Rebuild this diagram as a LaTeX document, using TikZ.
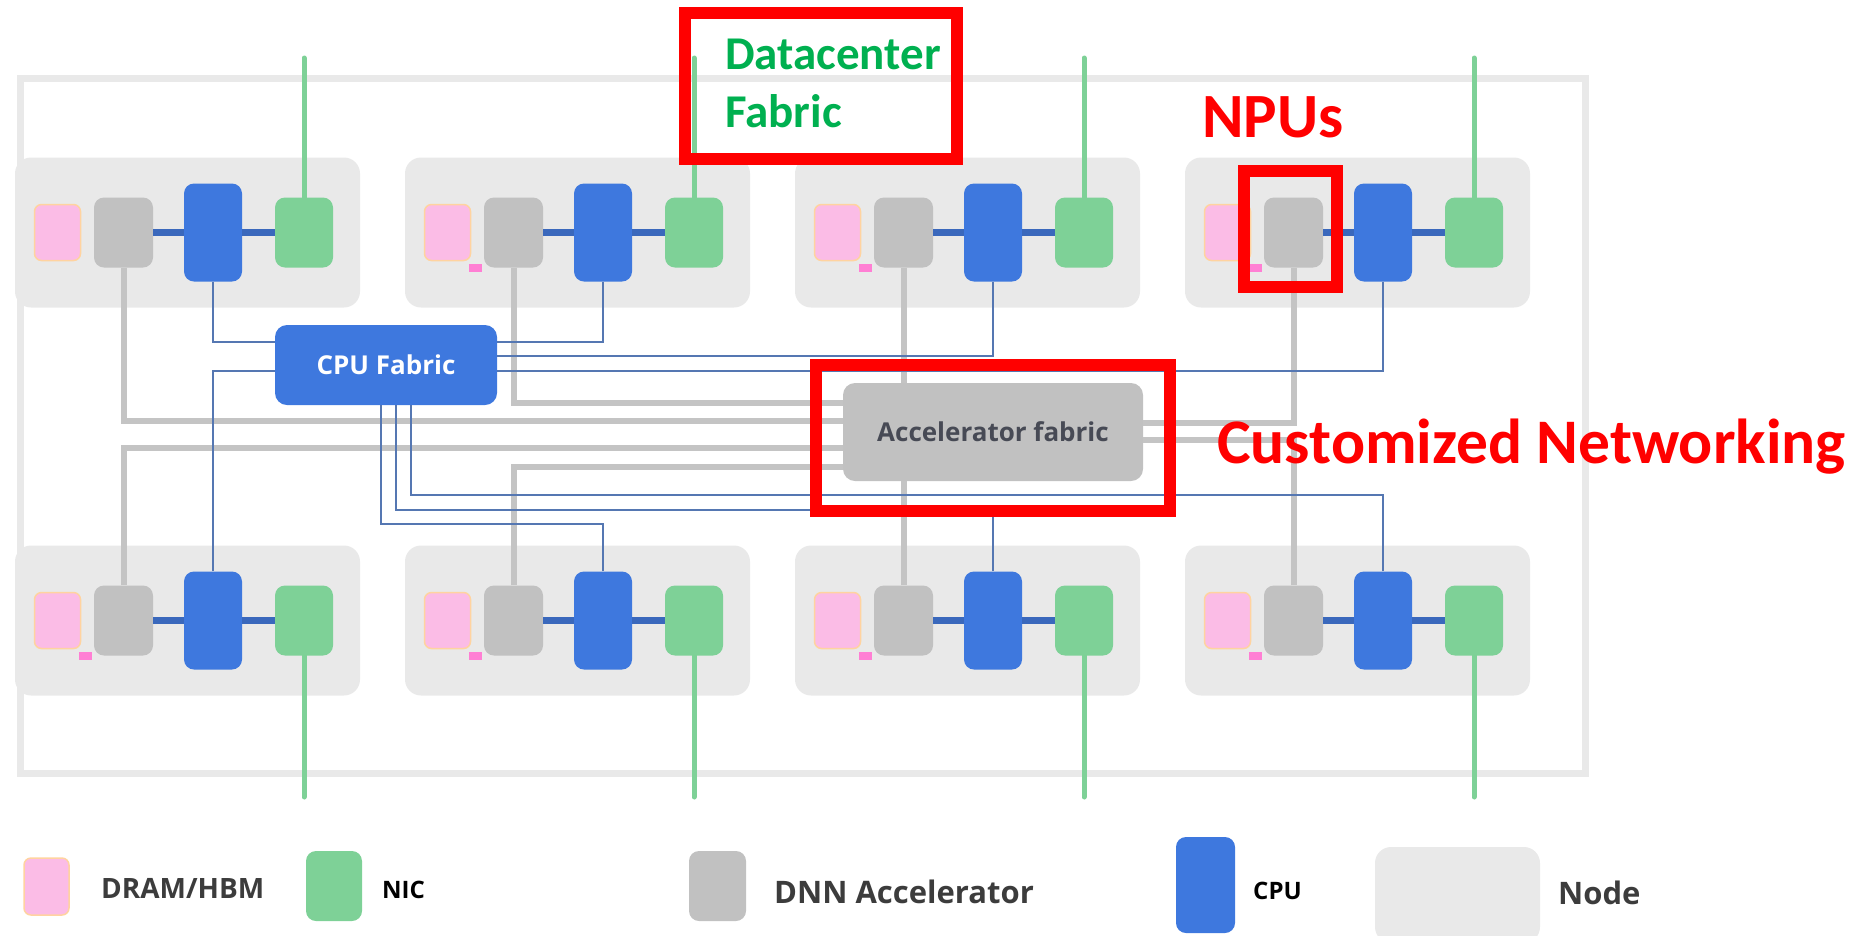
\documentclass[tikz,border=0pt]{standalone}
\usepackage{fontspec}
\setmainfont{Open Sans}
\newfontfamily\notefont{Carlito}

\definecolor{nodegray}{HTML}{E9E9E9}
\definecolor{dramfill}{HTML}{FBBCE6}
\definecolor{dramline}{HTML}{FFD3A0}
\definecolor{accgray}{HTML}{C1C1C1}
\definecolor{cpublue}{HTML}{3E78DE}
\definecolor{busblue}{HTML}{3A68BC}
\definecolor{nicgreen}{HTML}{7ED197}
\definecolor{linkblue}{HTML}{5577B2}
\definecolor{linkgray}{HTML}{C4C4C4}
\definecolor{framegray}{HTML}{E9E9E9}
\definecolor{tagpink}{HTML}{FF7FD4}
\definecolor{dcgreen}{HTML}{00B050}
\definecolor{labelgray}{HTML}{474A55}
\definecolor{legendgray}{HTML}{3C3C3C}

\tikzstyle{box}=[inner sep=0pt, rounded corners=10pt]
\tikzstyle{nodebox}=[box, fill=nodegray, minimum width=345pt, minimum height=150pt, rounded corners=16pt]
\tikzstyle{dram}=[box, fill=dramfill, draw=dramline, line width=1.5pt, minimum width=46pt, minimum height=56pt, rounded corners=7pt]
\tikzstyle{npu}=[box, fill=accgray, minimum width=59pt, minimum height=70pt]
\tikzstyle{cpu}=[box, fill=cpublue, minimum width=58pt, minimum height=98pt]
\tikzstyle{nic}=[box, fill=nicgreen, minimum width=58pt, minimum height=70pt]
\tikzstyle{tag}=[inner sep=0pt, fill=tagpink, minimum width=13pt, minimum height=8pt]
\tikzstyle{fabric}=[box, rounded corners=12pt, font=\bfseries\fontsize{26}{26}\selectfont]
\tikzstyle{bus}=[draw=busblue, line width=7pt]
\tikzstyle{cpulink}=[draw=linkblue, line width=2pt]
\tikzstyle{acclink}=[draw=linkgray, line width=6pt]
\tikzstyle{uplink}=[draw=nicgreen, line width=5pt, line cap=round]
\tikzstyle{redbox}=[draw=red, line width=12pt, inner sep=0pt]
\tikzstyle{note}=[inner sep=0pt, anchor=base west]
\tikzstyle{legtext}=[inner sep=0pt, anchor=base west, text=legendgray, font=\bfseries\fontsize{30}{30}\selectfont]
\tikzstyle{legsmall}=[inner sep=0pt, anchor=base west, font=\bfseries\fontsize{24}{24}\selectfont]

\begin{document}
\begin{tikzpicture}[x=1pt, y=-1pt]
  \useasboundingbox (0,0) rectangle (1862,935);
  \draw[framegray, line width=7pt] (20,78) rectangle (1585,773);
  \coordinate (top) at (0,58);
  \coordinate (bot) at (0,797);

  \node[nodebox] (n1) at (187.5,232.5) {};
  \node[cpu, right of=n1, node distance=25.5pt] (c1) {};
  \node[npu, left of=c1, node distance=89.5pt] (a1) {};
  \node[dram, left of=a1, node distance=66pt] (m1) {};
  \node[nic, right of=c1, node distance=91pt] (e1) {};

  \node[nodebox] (n2) at (577.5,232.5) {};
  \node[cpu, right of=n2, node distance=25.5pt] (c2) {};
  \node[npu, left of=c2, node distance=89.5pt] (a2) {};
  \node[dram, left of=a2, node distance=66pt] (m2) {};
  \node[nic, right of=c2, node distance=91pt] (e2) {};

  \node[nodebox] (n3) at (967.5,232.5) {};
  \node[cpu, right of=n3, node distance=25.5pt] (c3) {};
  \node[npu, left of=c3, node distance=89.5pt] (a3) {};
  \node[dram, left of=a3, node distance=66pt] (m3) {};
  \node[nic, right of=c3, node distance=91pt] (e3) {};

  \node[nodebox] (n4) at (1357.5,232.5) {};
  \node[cpu, right of=n4, node distance=25.5pt] (c4) {};
  \node[npu, left of=c4, node distance=89.5pt] (a4) {};
  \node[dram, left of=a4, node distance=66pt] (m4) {};
  \node[nic, right of=c4, node distance=91pt] (e4) {};

  \node[nodebox] (n5) at (187.5,620.5) {};
  \node[cpu, right of=n5, node distance=25.5pt] (c5) {};
  \node[npu, left of=c5, node distance=89.5pt] (a5) {};
  \node[dram, left of=a5, node distance=66pt] (m5) {};
  \node[nic, right of=c5, node distance=91pt] (e5) {};

  \node[nodebox] (n6) at (577.5,620.5) {};
  \node[cpu, right of=n6, node distance=25.5pt] (c6) {};
  \node[npu, left of=c6, node distance=89.5pt] (a6) {};
  \node[dram, left of=a6, node distance=66pt] (m6) {};
  \node[nic, right of=c6, node distance=91pt] (e6) {};

  \node[nodebox] (n7) at (967.5,620.5) {};
  \node[cpu, right of=n7, node distance=25.5pt] (c7) {};
  \node[npu, left of=c7, node distance=89.5pt] (a7) {};
  \node[dram, left of=a7, node distance=66pt] (m7) {};
  \node[nic, right of=c7, node distance=91pt] (e7) {};

  \node[nodebox] (n8) at (1357.5,620.5) {};
  \node[cpu, right of=n8, node distance=25.5pt] (c8) {};
  \node[npu, left of=c8, node distance=89.5pt] (a8) {};
  \node[dram, left of=a8, node distance=66pt] (m8) {};
  \node[nic, right of=c8, node distance=91pt] (e8) {};

  \node[fabric, fill=cpublue, text=white, minimum width=222pt, minimum height=80pt] (cf) at (386,365) {CPU Fabric};
  \node[fabric, fill=accgray, text=labelgray, minimum width=300pt, minimum height=98pt] (af) at (993,432) {Accelerator fabric};

  \draw[bus] (a1.east) -- (c1.west) (c1.east) -- (e1.west)
             (a2.east) -- (c2.west) (c2.east) -- (e2.west)
             (a3.east) -- (c3.west) (c3.east) -- (e3.west)
             (a4.east) -- (c4.west) (c4.east) -- (e4.west)
             (a5.east) -- (c5.west) (c5.east) -- (e5.west)
             (a6.east) -- (c6.west) (c6.east) -- (e6.west)
             (a7.east) -- (c7.west) (c7.east) -- (e7.west)
             (a8.east) -- (c8.west) (c8.east) -- (e8.west);

  \draw[acclink] (a1.south) |- (af.west |- 0,421);
  \draw[acclink] (a2.south) |- (af.west |- 0,403);
  \draw[acclink] (a3.south) -- (a3.south |- af.north);
  \draw[acclink] (a4.south) |- (af.east |- 0,423);
  \draw[acclink] (a5.north) |- (af.west |- 0,448);
  \draw[acclink] (a6.north) |- (af.west |- 0,467);
  \draw[acclink] (a7.north) -- (a7.north |- af.south);
  \draw[acclink] (a8.north) |- (af.east |- 0,440);

  \draw[cpulink] (c1.south) |- (cf.west |- 0,342);
  \draw[cpulink] (c2.south) |- (cf.east |- 0,342);
  \draw[cpulink] (c3.south) |- (cf.east |- 0,356);
  \draw[cpulink] (c4.south) |- (cf.east |- 0,371);
  \draw[cpulink] (c5.north) |- (cf.west |- 0,371);
  \draw[cpulink] (c6.north) |- (381,524) -- (cf.south -| 381,0);
  \draw[cpulink] (c7.north) |- (396,510) -- (cf.south -| 396,0);
  \draw[cpulink] (c8.north) |- (411,495) -- (cf.south -| 411,0);

  \draw[uplink] (e1.north) -- (e1.north |- top);
  \draw[uplink] (e2.north) -- (e2.north |- top);
  \draw[uplink] (e3.north) -- (e3.north |- top);
  \draw[uplink] (e4.north) -- (e4.north |- top);
  \draw[uplink] (e5.south) -- (e5.south |- bot);
  \draw[uplink] (e6.south) -- (e6.south |- bot);
  \draw[uplink] (e7.south) -- (e7.south |- bot);
  \draw[uplink] (e8.south) -- (e8.south |- bot);

  \node[tag] (t2) at ([xshift=-8pt]a2.south west) {};
  \node[tag] (t3) at ([xshift=-8pt]a3.south west) {};
  \node[tag] (t4) at ([xshift=-8pt]a4.south west) {};
  \node[tag] (t5) at ([xshift=-8pt]a5.south west) {};
  \node[tag] (t6) at ([xshift=-8pt]a6.south west) {};
  \node[tag] (t7) at ([xshift=-8pt]a7.south west) {};
  \node[tag] (t8) at ([xshift=-8pt]a8.south west) {};

  \node[redbox, minimum width=272pt, minimum height=146pt] (dcbox) at (821,86) {};
  \node[redbox, minimum width=93pt, minimum height=116pt] (npubox) at (1290.5,229) {};
  \node[redbox, minimum width=354pt, minimum height=146pt] (netbox) at (993,438) {};
  \node[note, text=dcgreen, font=\notefont\bfseries\fontsize{47}{47}\selectfont] (dc1) at (725,69) {Datacenter};
  \node[note, text=dcgreen, font=\notefont\bfseries\fontsize{47}{47}\selectfont] (dc2) at (725,127) {Fabric};
  \node[note, text=red, font=\notefont\bfseries\fontsize{63}{63}\selectfont] (npus) at (1202,137) {NPUs};
  \node[note, text=red, font=\notefont\bfseries\fontsize{63.5}{63.5}\selectfont] (cnet) at (1217,463) {Customized Networking};

  \node[dram, minimum width=45pt, minimum height=57pt] (ldram) at (46.5,886.5) {};
  \node[legtext, font=\bfseries\fontsize{28}{28}\selectfont] (ldramtxt) at (101,898) {DRAM/HBM};
  \node[nic, minimum width=56pt] (lnic) at (334,886) {};
  \node[legsmall] (lnictxt) at (382,898) {NIC};
  \node[npu, minimum width=57pt] (lnpu) at (717.5,886) {};
  \node[legtext, font=\bfseries\fontsize{31}{31}\selectfont] (lnputxt) at (774,903) {DNN Accelerator};
  \node[cpu, minimum width=59pt, minimum height=96pt] (lcpu) at (1205.5,885) {};
  \node[legsmall] (lcputxt) at (1253,899) {CPU};
  \node[nodebox, minimum width=165pt, minimum height=96pt] (lnode) at (1457.5,895) {};
  \node[legtext, font=\bfseries\fontsize{31}{31}\selectfont] (lnodetxt) at (1558,904) {Node};
\end{tikzpicture}
\end{document}
